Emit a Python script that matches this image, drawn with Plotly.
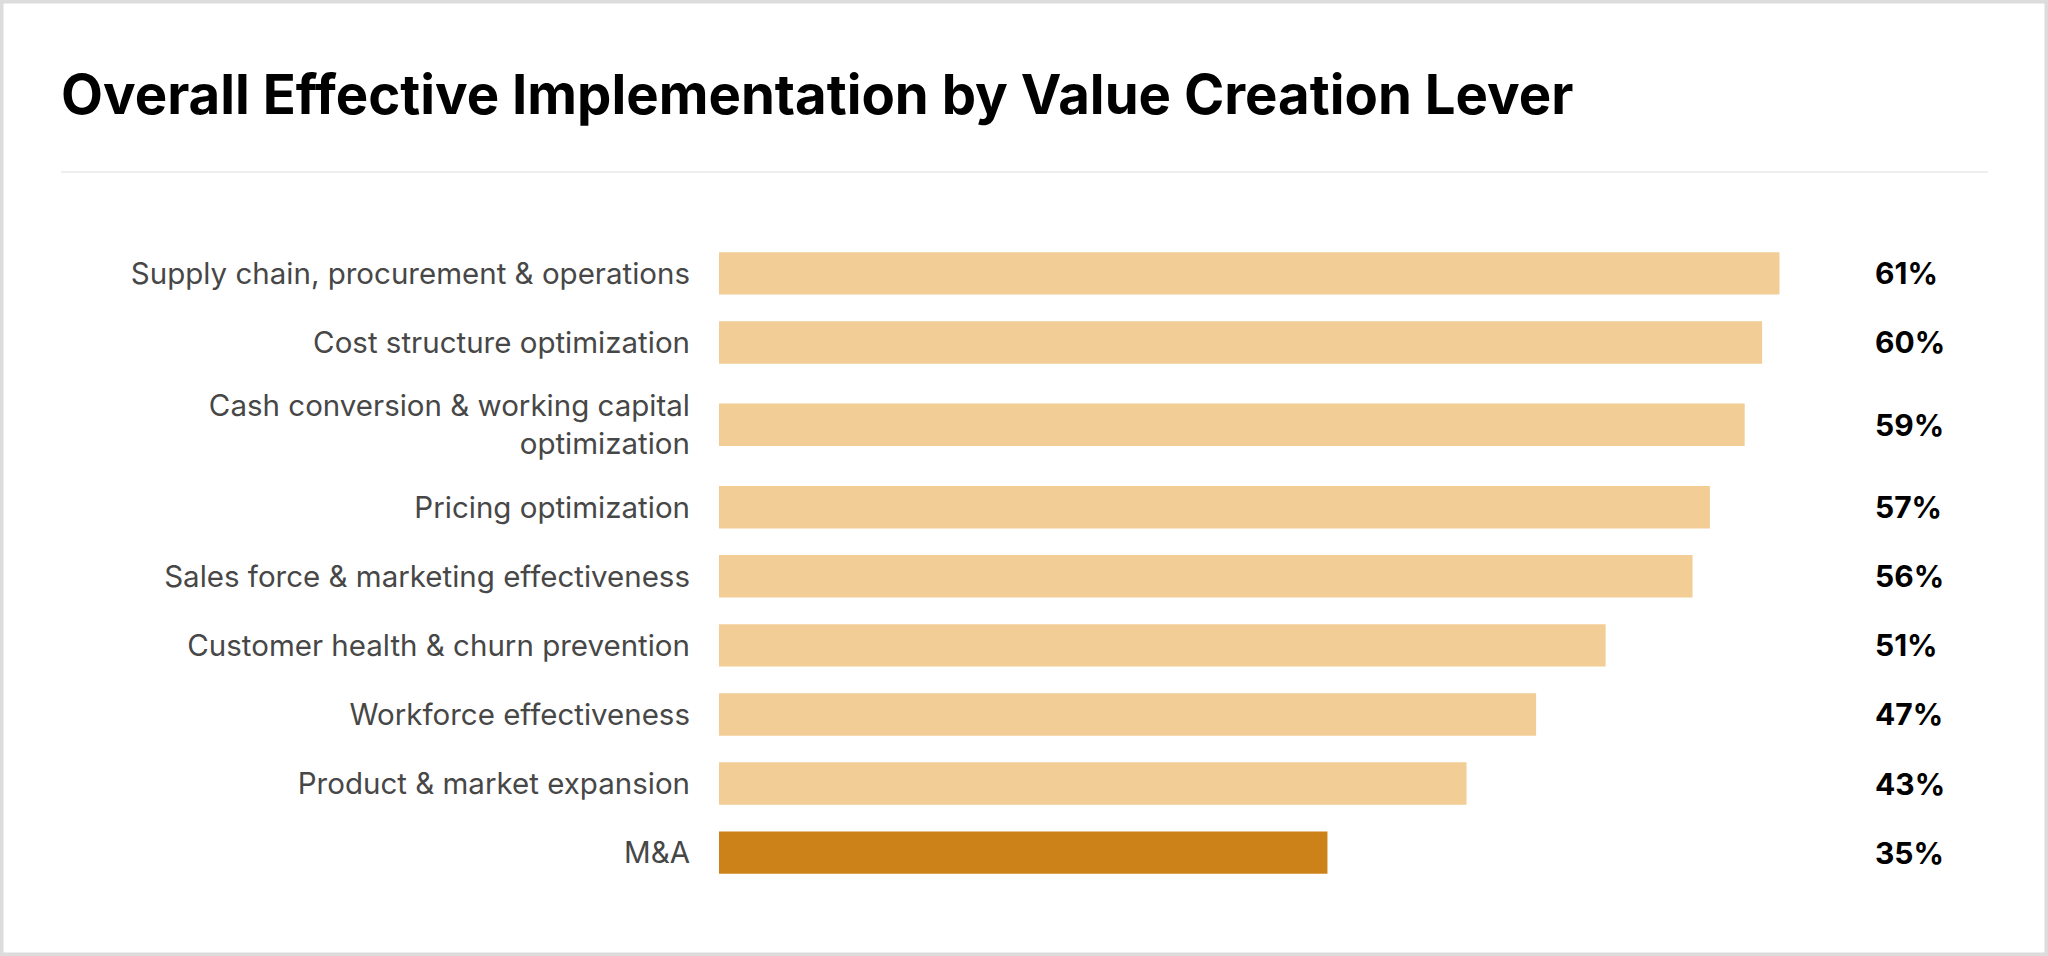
import plotly.graph_objects as go

# Data
levers = [
    'Supply chain, procurement & operations',
    'Cost structure optimization',
    'Cash conversion & working capital<br>optimization',
    'Pricing optimization',
    'Sales force & marketing effectiveness',
    'Customer health & churn prevention',
    'Workforce effectiveness',
    'Product & market expansion',
    'M&A',
]
values = [61, 60, 59, 57, 56, 51, 47, 43, 35]
highlight = 'M&A'

W, H = 2048, 956
L, R, T, B = 719, 199, 225, 55
pw, ph = W - L - R, H - T - B

# row heights grow with the number of label lines
row_h = [1 + 0.385 * lab.count('<br>') for lab in levers]
ypos = [0.0]
for i in range(1, len(levers)):
    ypos.append(ypos[-1] + (row_h[i - 1] + row_h[i]) / 2)
pad = 0.7

colors = ['#cc8219' if lab == highlight else '#f2ce96' for lab in levers]


def px_x(p):
    return (p - L) / pw


def px_y(p):
    return 1 - (p - T) / ph


fig = go.Figure(go.Bar(
    x=values, y=ypos, orientation='h',
    marker=dict(color=colors, line=dict(width=0)),
    width=0.614, hoverinfo='skip',
))

fig.update_layout(
    width=W, height=H,
    margin=dict(l=L, r=R, t=T, b=B),
    paper_bgcolor='white', plot_bgcolor='white',
    showlegend=False,
    font=dict(family='Inter', color='#474747'),
    xaxis=dict(range=[0, 65], visible=False, fixedrange=True),
    yaxis=dict(range=[ypos[-1] + pad, -pad], tickvals=ypos, ticktext=levers,
               showgrid=False, zeroline=False, showline=False, ticks='',
               fixedrange=True,
               ticklabelstandoff=28, tickfont=dict(size=29.5, color='#474747')),
)

# value labels
for y, v in zip(ypos, values):
    fig.add_annotation(x=1, xref='paper', y=y, yref='y', xanchor='left', xshift=24,
                       text=f'{v}%', showarrow=False,
                       font=dict(size=30, color='#000000', weight=700))

# title
fig.add_annotation(x=px_x(59), xref='paper', y=px_y(94), yref='paper',
                   xanchor='left', yanchor='middle', showarrow=False,
                   text='Overall Effective Implementation by Value Creation Lever',
                   font=dict(size=54.5, color='#000000', weight=700))

# separator and frame
fig.add_shape(type='line', xref='paper', yref='paper',
              x0=px_x(61), x1=px_x(1988), y0=px_y(172), y1=px_y(172),
              line=dict(color='#eeeeee', width=2))
fig.add_shape(type='rect', xref='paper', yref='paper',
              x0=px_x(0), x1=px_x(W), y0=px_y(0), y1=px_y(H),
              line=dict(color='#dcdcdc', width=7))

fig.write_html('out.html', config={'displayModeBar': False},
               post_script="document.body.style.margin='0';"
                           "document.body.style.overflow='hidden';")
